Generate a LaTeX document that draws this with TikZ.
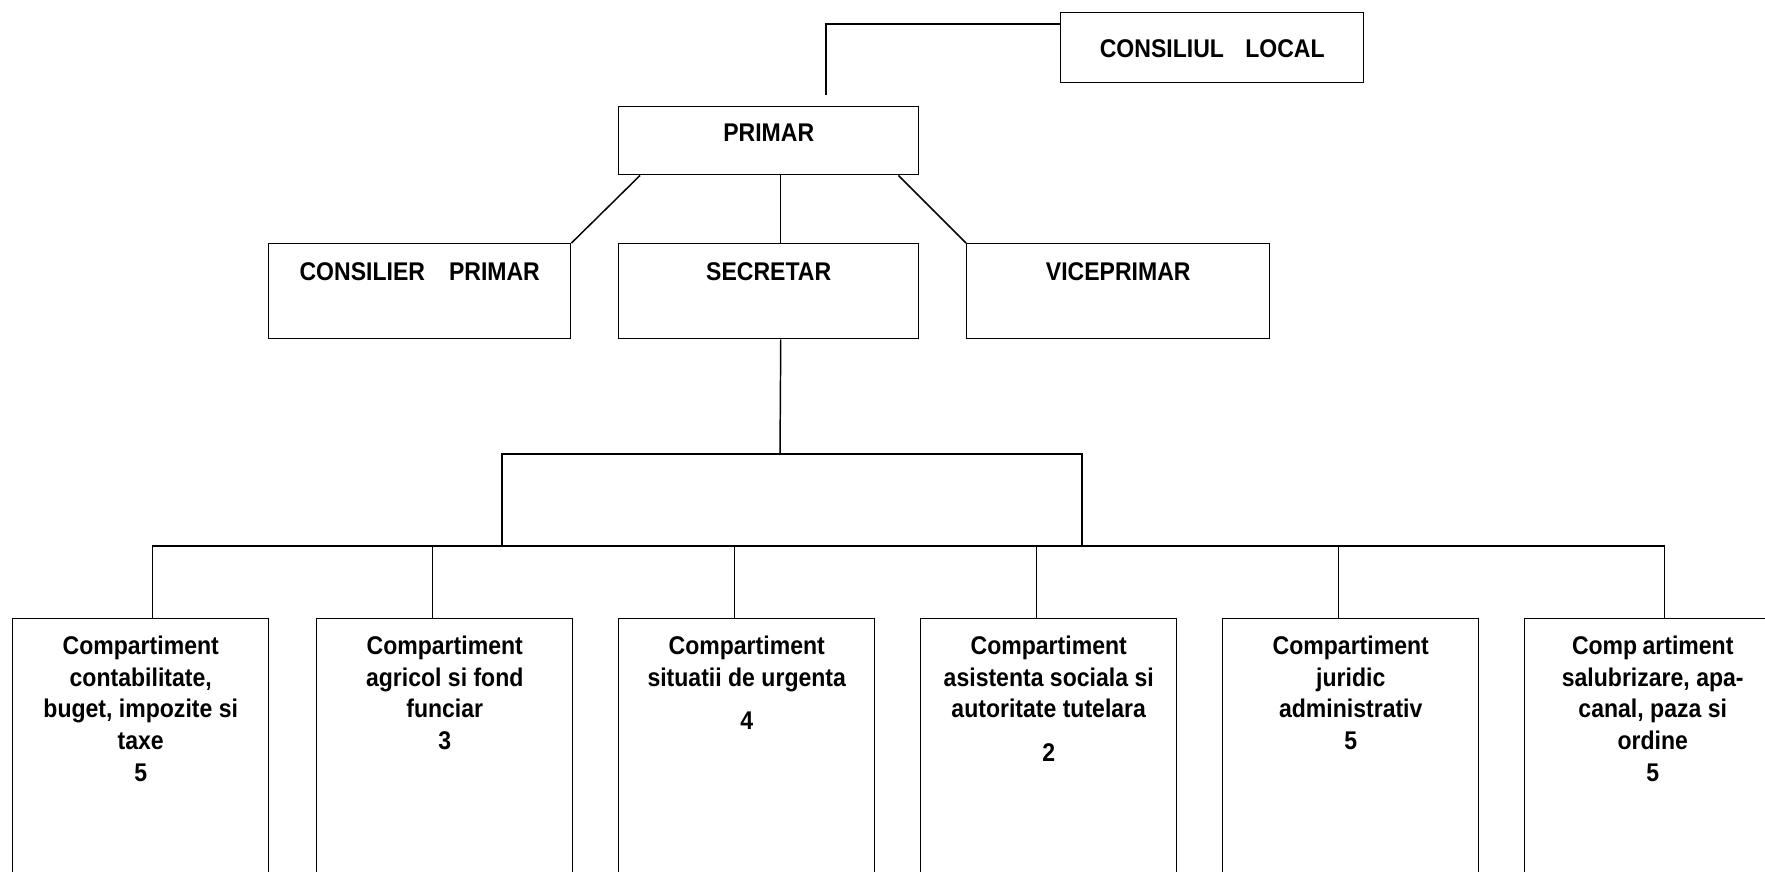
\documentclass[tikz,border=0pt]{standalone}
\usepackage{fontspec}
\setmainfont{Liberation Sans}[FakeStretch=0.9]
\usetikzlibrary{positioning}

\begin{document}
\begin{tikzpicture}[x=0.75pt,y=-0.75pt,line width=1.1pt,
  box/.style={draw,rectangle,anchor=north west,inner sep=0pt},
  dept/.style={box,minimum width=192pt,minimum height=218pt},
  lbl/.style={align=center,inner sep=0pt,font=\fontsize{19.2}{23.8}\selectfont\bfseries}]

	\useasboundingbox (0,0) rectangle (1765,871);
	\clip (0,0) rectangle (1765,871);

	% The upper boxes
	\node [box,minimum width=227.25pt,minimum height=52.5pt] at (1060,12) (consiliu) {};
	\node [box,minimum width=225pt,minimum height=51pt] at (618,106) (primar) {};
	\node [box,minimum width=226.5pt,minimum height=71.25pt] at (268,243) (consilier) {};
	\node [box,minimum width=225pt,minimum height=71.25pt] at (618,243) (secretar) {};
	\node [box,minimum width=227.25pt,minimum height=71.25pt] at (966,243) (vice) {};

	\node [lbl,below=20.5pt of consiliu.north] (tconsiliu) {CONSILIUL\hspace{16pt}LOCAL};
	\node [lbl,below=12.75pt of primar.north] (tprimar) {PRIMAR};
	\node [lbl,below=14.5pt of consilier.north] (tconsilier) {CONSILIER\hspace{18pt}PRIMAR};
	\node [lbl,below=14.5pt of secretar.north] (tsecretar) {SECRETAR};
	\node [lbl,below=14.5pt of vice.north] (tvice) {VICEPRIMAR};

	% The compartments
	\node [dept] at (12,618) (c1) {};
	\node [dept] at (316,618) (c2) {};
	\node [dept] at (618,618) (c3) {};
	\node [dept] at (920,618) (c4) {};
	\node [dept] at (1222,618) (c5) {};
	\node [dept] at (1524,618) (c6) {};

	\node [lbl,below=12.75pt of c1.north] (t1) {Compartiment\\contabilitate,\\buget, impozite si\\taxe\\5};
	\node [lbl,below=12.75pt of c2.north] (t2) {Compartiment\\agricol si fond\\funciar\\3};
	\node [lbl,below=12.75pt of c3.north] (t3) {Compartiment\\situatii de urgenta\\[9pt]4};
	\node [lbl,below=12.75pt of c4.north] (t4) {Compartiment\\asistenta sociala si\\autoritate tutelara\\[9pt]2};
	\node [lbl,below=12.75pt of c5.north] (t5) {Compartiment\\juridic\\administrativ\\5};
	\node [lbl,below=12.75pt of c6.north] (t6) {Comp\hspace{4pt}artiment\\salubrizare, apa-\\canal, paza si\\ordine\\5};

	% Connectors
	\coordinate (clend) at (826,95);
	\coordinate (mid) at (780,454);
	\coordinate (midL) at (502,546);
	\coordinate (midR) at (1082,546);
	\coordinate (busL) at (152,546);
	\coordinate (busR) at (1664,546);

	\draw (clend) |- ([yshift=-9pt]consiliu.north west);
	\draw ([xshift=16.5pt]primar.south west) -- (consilier.north east);
	\draw ([xshift=9pt]primar.south) -- ([xshift=9pt]secretar.north);
	\draw ([xshift=-15.75pt]primar.south east) -- (vice.north west);
	\draw ([xshift=9pt]secretar.south) -- (mid);
	\draw (midL) |- (mid) -| (midR);
	\draw (busL) -- (busR);

	\foreach \n/\dx in {c1/12,c2/-12,c3/-12,c4/-12,c5/-12,c6/12}
		\draw (\n.north) ++(\dx,0) |- (busL);

\end{tikzpicture}
\end{document}
